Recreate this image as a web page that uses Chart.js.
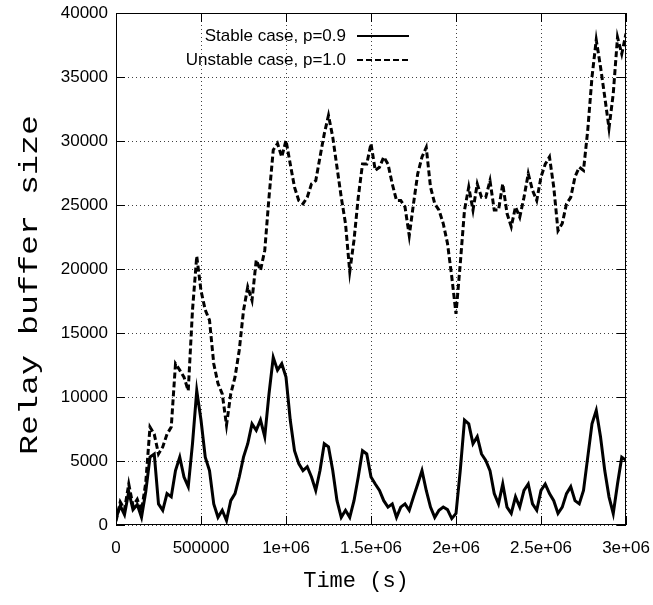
<!DOCTYPE html>
<html>
<head>
<meta charset="utf-8">
<script src="https://cdn.jsdelivr.net/npm/chart.js@4/dist/chart.umd.min.js"></script>
<style>
  html, body { margin: 0; padding: 0; background: #fff; }
  #wrap { width: 653px; height: 605px; position: relative; }
</style>
</head>
<body>
<div id="wrap"><canvas id="relayChart"></canvas></div>
<script>
// time axis (s), one reading every 25000 s
const times = [
  0, 25000, 50000, 75000, 100000, 125000, 150000, 175000, 200000, 225000,
  250000, 275000, 300000, 325000, 350000, 375000, 400000, 425000, 450000, 475000,
  500000, 525000, 550000, 575000, 600000, 625000, 650000, 675000, 700000, 725000,
  750000, 775000, 800000, 825000, 850000, 875000, 900000, 925000, 950000, 975000,
  1000000, 1025000, 1050000, 1075000, 1100000, 1125000, 1150000, 1175000, 1200000, 1225000,
  1250000, 1275000, 1300000, 1325000, 1350000, 1375000, 1400000, 1425000, 1450000, 1475000,
  1500000, 1525000, 1550000, 1575000, 1600000, 1625000, 1650000, 1675000, 1700000, 1725000,
  1750000, 1775000, 1800000, 1825000, 1850000, 1875000, 1900000, 1925000, 1950000, 1975000,
  2000000, 2025000, 2050000, 2075000, 2100000, 2125000, 2150000, 2175000, 2200000, 2225000,
  2250000, 2275000, 2300000, 2325000, 2350000, 2375000, 2400000, 2425000, 2450000, 2475000,
  2500000, 2525000, 2550000, 2575000, 2600000, 2625000, 2650000, 2675000, 2700000, 2725000,
  2750000, 2775000, 2800000, 2825000, 2850000, 2875000, 2900000, 2925000, 2950000, 2975000,
  3000000
];

// Stable case, p=0.9
const stable = [
  500, 1500, 800, 2600, 1200, 1600, 600, 2600, 5300, 5550,
  1650, 1150, 2450, 2200, 4250, 5300, 3750, 3000, 6350, 10500,
  8200, 5300, 4250, 1650, 600, 1150, 350, 1900, 2450, 3750,
  5300, 6350, 7900, 7400, 8200, 6900, 10250, 13100, 12100, 12600,
  11550, 8200, 5800, 4800, 4250, 4550, 3750, 2700, 4250, 6350,
  6100, 4250, 1900, 600, 1150, 600, 1900, 3750, 5800, 5550,
  3750, 3200, 2700, 1900, 1400, 1650, 600, 1400, 1650, 1150,
  2200, 3200, 4250, 2700, 1400, 600, 1150, 1400, 1200, 500,
  900, 4250, 8200, 7900, 6350, 6900, 5550, 5050, 4250, 2450,
  1650, 3200, 1400, 900, 2200, 1400, 2700, 3200, 1650, 1150,
  2700, 3200, 2450, 1900, 900, 1400, 2450, 3000, 1900, 1650,
  2700, 5300, 7900, 8950, 6900, 4250, 2200, 900, 3200, 5300,
  5050
];

// Unstable case, p=1.0
const unstable = [
  300, 1800, 1200, 3200, 1500, 2000, 1100, 3300, 7650, 7100,
  5550, 6100, 7100, 7650, 12600, 12100, 11550, 10500, 16800, 21000,
  18300, 16800, 16000, 12600, 11050, 10250, 7800, 10250, 11550, 13650,
  16750, 18600, 17550, 20700, 19900, 21450, 25600, 29300, 29800, 28750,
  30050, 28200, 26400, 25350, 25100, 25600, 26650, 26900, 28750, 30550,
  32000, 30300, 27950, 25600, 23550, 19800, 22250, 25600, 28200, 28200,
  29800, 27700, 27950, 28750, 28200, 26650, 25350, 25350, 24850, 22600,
  25100, 27450, 28750, 29500, 26400, 25100, 24600, 23550, 22000, 19400,
  16500, 20400, 24600, 26400, 24600, 26650, 25600, 25600, 26900, 24600,
  24600, 26650, 24350, 23300, 24850, 24050, 25600, 27450, 26150, 25350,
  27200, 28200, 28750, 26400, 23000, 23550, 25100, 25600, 27200, 27950,
  27700, 30850, 35000, 37900, 35800, 33450, 31000, 33700, 38100, 36800,
  38400
];

const xTickLabels = ['0', '500000', '1e+06', '1.5e+06', '2e+06', '2.5e+06', '3e+06'];
const seriesNames = ['Stable case, p=0.9', 'Unstable case, p=1.0'];
const xTitle = 'Time (s)';
const yTitle = 'Relay buffer size';

const tickFont = { family: "'Liberation Sans', Arial, sans-serif", size: 17 };
const dash = [6, 3];

// gnuplot-like frame, inward ticks, axis titles and key
const gnuplotDecor = {
  id: 'gnuplotDecor',
  afterDraw(chart) {
    const { ctx, chartArea: a, scales } = chart;
    ctx.save();
    ctx.strokeStyle = '#000';
    ctx.lineWidth = 1;
    ctx.setLineDash([]);
    ctx.strokeRect(a.left + 0.5, a.top + 0.5, a.right - a.left - 1, a.bottom - a.top - 1);

    const tl = 9;
    ctx.beginPath();
    scales.x.ticks.forEach(t => {
      const px = Math.round(scales.x.getPixelForValue(t.value)) + 0.5;
      ctx.moveTo(px, a.bottom); ctx.lineTo(px, a.bottom - tl);
      ctx.moveTo(px, a.top); ctx.lineTo(px, a.top + tl);
    });
    scales.y.ticks.forEach(t => {
      const py = Math.round(scales.y.getPixelForValue(t.value)) + 0.5;
      ctx.moveTo(a.left, py); ctx.lineTo(a.left + tl, py);
      ctx.moveTo(a.right, py); ctx.lineTo(a.right - tl, py);
    });
    ctx.stroke();

    // axis titles
    ctx.fillStyle = '#000';
    ctx.font = "22px 'Liberation Mono', 'Courier New', monospace";
    ctx.textAlign = 'center';
    ctx.textBaseline = 'middle';
    ctx.fillText(xTitle, 356, 581);

    ctx.save();
    ctx.translate(30, 285);
    ctx.rotate(-Math.PI / 2);
    ctx.font = "26px 'Liberation Mono', 'Courier New', monospace";
    const w = ctx.measureText(yTitle).width;
    ctx.scale(340 / w, 1);
    ctx.fillText(yTitle, 0, 0);
    ctx.restore();

    // key
    ctx.font = "17px 'Liberation Sans', Arial, sans-serif";
    ctx.textAlign = 'right';
    const rows = [36, 60];
    chart.data.datasets.forEach((ds, i) => {
      ctx.fillText(ds.label, 346, rows[i]);
      ctx.beginPath();
      ctx.lineWidth = 2;
      ctx.setLineDash(ds.borderDash || []);
      ctx.moveTo(357, rows[i]);
      ctx.lineTo(409, rows[i]);
      ctx.stroke();
    });
    ctx.restore();
  }
};

const ctx = document.getElementById('relayChart').getContext('2d');
const relayChart = new Chart(ctx, {
  type: 'line',
  data: {
    datasets: [{
      label: seriesNames[0],
      data: times.map((t, i) => ({ x: t, y: stable[i] })),
      borderColor: '#000',
      borderWidth: 3,
      pointRadius: 0,
      tension: 0
    }, {
      label: seriesNames[1],
      data: times.map((t, i) => ({ x: t, y: unstable[i] })),
      borderColor: '#000',
      borderWidth: 3,
      borderDash: dash,
      pointRadius: 0,
      tension: 0
    }]
  },
  options: {
    responsive: true,
    maintainAspectRatio: false,
    animation: false,
    layout: { padding: { top: 13, right: 27, left: 0, bottom: 0 } },
    plugins: { legend: { display: false }, tooltip: { enabled: false } },
    scales: {
      x: {
        type: 'linear',
        min: 0,
        max: 3000000,
        afterFit: s => { s.height = 80; s.paddingLeft = 0; s.paddingRight = 0; },
        ticks: {
          stepSize: 500000,
          autoSkip: false,
          maxRotation: 0,
          padding: 13,
          color: '#000',
          font: tickFont,
          callback: (v, i) => xTickLabels[i]
        },
        grid: { color: 'rgba(0,0,0,0.75)', lineWidth: 1, drawTicks: false },
        border: { display: false, dash: [1, 3] }
      },
      y: {
        min: 0,
        max: 40000,
        afterFit: s => { s.width = 116; s.paddingTop = 0; s.paddingBottom = 0; },
        ticks: {
          stepSize: 5000,
          padding: 8,
          color: '#000',
          font: tickFont,
          callback: v => String(v)
        },
        grid: { color: 'rgba(0,0,0,0.75)', lineWidth: 1, drawTicks: false },
        border: { display: false, dash: [1, 3] }
      }
    }
  },
  plugins: [gnuplotDecor]
});
</script>
</body>
</html>
